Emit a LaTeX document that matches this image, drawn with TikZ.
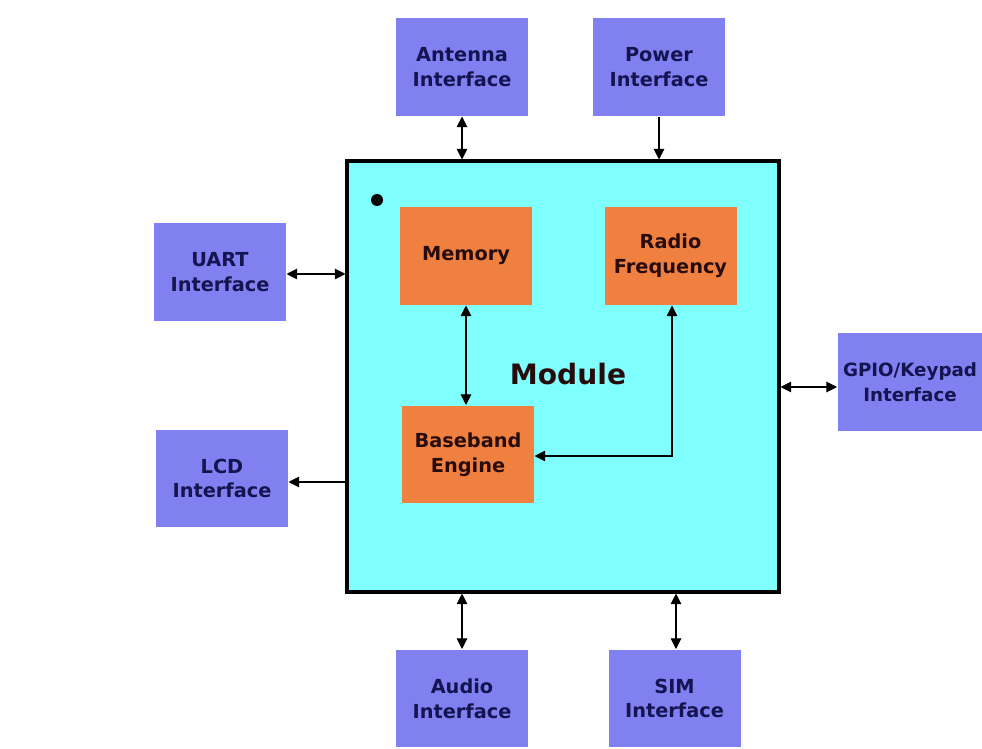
\documentclass[tikz,border=0pt]{standalone}
\usepackage{fontspec}
\setmainfont{DejaVu Sans}
\usepackage{tikz}
\usetikzlibrary{arrows.meta, shapes}

\definecolor{IfBlue}{RGB}{128,128,240}
\definecolor{IfText}{RGB}{20,20,80}
\definecolor{ModCyan}{RGB}{128,255,255}
\definecolor{BlkOrange}{RGB}{240,128,64}
\definecolor{BlkText}{RGB}{40,12,12}

\begin{document}
\begin{tikzpicture}[x=0.02cm, y=-0.02cm,
  iface/.style={rectangle, fill=IfBlue, text=IfText, minimum width=2.64cm,
    minimum height=1.96cm, align=center, inner sep=1pt,
    font=\fontsize{11}{14}\selectfont\bfseries},
  %
  block/.style={rectangle, fill=BlkOrange, text=BlkText, minimum width=2.64cm,
    minimum height=1.96cm, align=center, inner sep=1pt,
    font=\fontsize{11}{14}\selectfont\bfseries},
  %
  module/.style={rectangle, draw=black, line width=1.8pt, fill=ModCyan,
    minimum width=8.64cm, minimum height=8.62cm,
    font=\fontsize{16}{18}\selectfont\bfseries},
  %
  link/.style={line width=0.9pt, >={Triangle[length=6pt, width=6pt]}}
  ]

  \tikzset{every path/.style={line width=.6pt}}
  \useasboundingbox (0,0) rectangle (982,749);

  \begin{scope}
    % module and inner blocks
    \node [module] (module) at (563,376.5) {};
    \node [font=\fontsize{16}{18}\selectfont\bfseries, text=BlkText] (modlabel) at (568,374) {Module};
    \fill (377,200) circle (6);
    \node [block] (memory) at (466,256) {Memory};
    \node [block] (radio) at (670.5,256) {Radio\\Frequency};
    \node [block] (baseband) at (468,454.5) {Baseband\\Engine};
    %%%%%%%%%%%%%%%%%%%%%%%%%%%%%%%
    % interfaces
    \node [iface] (antenna) at (462,67) {Antenna\\Interface};
    \node [iface] (power) at (659,67) {Power\\Interface};
    \node [iface] (uart) at (220,272) {UART\\Interface};
    \node [iface] (lcd) at (222,478.5) {LCD\\Interface};
    \node [iface, minimum width=2.9cm, font=\fontsize{10.4}{14}\selectfont\bfseries]
      (gpio) at (910,382) {GPIO/Keypad\\Interface};
    \node [iface] (audio) at (462,698.5) {Audio\\Interface};
    \node [iface] (sim) at (674.5,698.5) {SIM\\Interface};
  \end{scope}

  \begin{scope}[link]
    \draw [<->] (antenna) -- (antenna |- module.north);
    \draw [->] (power) -- (power |- module.north);
    \draw [<->] ([yshift=-0.04cm]uart.east) -- ([yshift=-0.04cm]uart -| module.west);
    \draw [<-] ([yshift=-0.07cm]lcd.east) -- ([yshift=-0.07cm]lcd -| module.west);
    \draw [<->] ([yshift=-0.1cm]gpio.west) -- ([yshift=-0.1cm]gpio -| module.east);
    \draw [<->] (audio) -- (audio |- module.south);
    \draw [<->] ([xshift=0.03cm]sim.north) -- ([xshift=0.03cm]sim |- module.south);
    \draw [<->] (memory) -- (memory |- baseband.north);
    \draw [<->] ([xshift=0.03cm]radio.south) |- ([yshift=-0.03cm]baseband.east);
  \end{scope}

\end{tikzpicture}
\end{document}
